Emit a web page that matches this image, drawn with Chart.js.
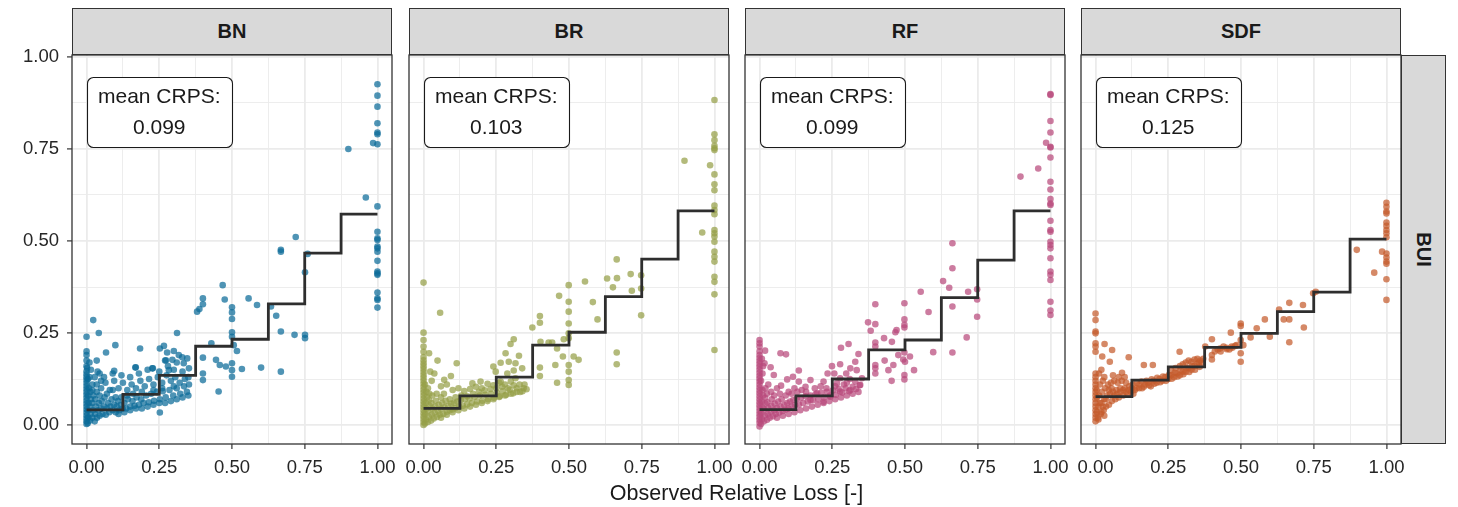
<!DOCTYPE html>
<html>
<head>
<meta charset="utf-8">
<script src="https://cdn.jsdelivr.net/npm/chart.js@4"></script>
<style>
  body { margin: 0; background: #fff; font-family: "Liberation Sans", Arial, sans-serif; }
  #wrap { position: relative; width: 1458px; height: 507px; overflow: hidden; }
  canvas { position: absolute; }
  .strip { position: absolute; box-sizing: border-box; background: #d9d9d9; border: 1.3px solid #333;
           display: flex; align-items: center; justify-content: center;
           font-weight: bold; font-size: 20px; color: #1a1a1a; }
  .strip.right span { display: inline-block; transform: rotate(90deg); }
  #xtitle { position: absolute; left: 0; width: 1473px; top: 481px; text-align: center;
            font-size: 21.5px; color: #1a1a1a; }
</style>
</head>
<body>
<div id="wrap"></div>
<script>
// ---- data ----
const models = ['BN', 'BR', 'RF', 'SDF'];
const rowLabel = 'BUI';
const xTitle = 'Observed Relative Loss [-]';
const meanCrps = ['0.099', '0.103', '0.099', '0.125'];
const labelAt = [0.25, 0.85];

const majorBreaks = [0, 0.25, 0.5, 0.75, 1];
const minorBreaks = [0.125, 0.375, 0.625, 0.875];
const breakLabels = ['0.00', '0.25', '0.50', '0.75', '1.00'];

// bin edges of the step line, and its level per bin
const binEdges = [0, 0.125, 0.25, 0.375, 0.5, 0.625, 0.75, 0.875, 1];
const stepBN  = [0.041, 0.083, 0.135, 0.214, 0.233, 0.329, 0.467, 0.573];
const stepBR  = [0.045, 0.079, 0.130, 0.217, 0.252, 0.349, 0.451, 0.582];
const stepRF  = [0.042, 0.079, 0.125, 0.204, 0.231, 0.346, 0.448, 0.582];
const stepSDF = [0.077, 0.122, 0.158, 0.211, 0.249, 0.308, 0.361, 0.505];

const pointsBN = [
  [0,0.003],[0,0.01],[0,0.018],[0,0.026],[0,0.034],[0,0.042],[0,0.05],[0,0.058],[0,0.066],[0,0.074],[0,0.082],[0,0.09],
  [0,0.098],[0,0.106],[0,0.114],[0,0.122],[0,0.13],[0,0.138],[0,0.146],[0,0.16],[0,0.175],[0,0.19],[0,0.2],[0,0.24],
  [0.004,0.005],[0.006,0.02],[0.005,0.04],[0.007,0.06],[0.006,0.08],[0.008,0.1],[0.005,0.125],[0.012,0.012],[0.014,0.03],
  [0.012,0.05],[0.015,0.07],[0.013,0.09],[0.02,0.02],[0.022,0.04],[0.02,0.06],[0.024,0.08],[0.028,0.01],[0.03,0.03],
  [0.032,0.05],[0.03,0.07],[0.036,0.02],[0.04,0.04],[0.042,0.06],[0.045,0.025],[0.05,0.045],[0.052,0.065],[0.055,0.03],
  [0.06,0.05],[0.062,0.075],[0.066,0.028],[0.07,0.045],[0.074,0.06],[0.078,0.035],[0.082,0.05],[0.086,0.07],[0.09,0.04],
  [0.095,0.055],[0.1,0.035],[0.104,0.05],[0.108,0.065],[0.112,0.04],[0.118,0.055],[0.124,0.045],[0.13,0.06],[0.136,0.045],
  [0.142,0.07],[0.15,0.05],[0.158,0.065],[0.165,0.052],[0.172,0.075],[0.18,0.055],[0.188,0.07],[0.196,0.06],[0.205,0.08],
  [0.214,0.062],[0.222,0.085],[0.232,0.066],[0.242,0.09],[0.252,0.07],[0.262,0.092],[0.272,0.075],[0.285,0.095],[0.298,0.08],
  [0.31,0.1],[0.322,0.085],[0.335,0.105],[0.345,0.09],[0.352,0.11],
  [0.11,0.03],[0.13,0.035],[0.15,0.04],[0.17,0.045],[0.19,0.045],[0.21,0.05],[0.23,0.055],[0.25,0.06],[0.27,0.06],
  [0.29,0.065],[0.31,0.07],[0.33,0.075],[0.35,0.08],[0.12,0.075],[0.14,0.08],[0.16,0.085],[0.19,0.09],[0.23,0.095],
  [0.26,0.1],[0.3,0.105],[0.02,0.11],[0.01,0.13],[0.015,0.15],[0.05,0.12],[0.07,0.085],[0.035,0.09],[0.045,0.08],
  [0.1,0.075],[0.09,0.095],[0.002,0.155],[0.01,0.17],
  [0.02,0.095],[0.035,0.11],[0.05,0.1],[0.065,0.115],[0.08,0.095],[0.095,0.12],[0.11,0.1],[0.125,0.115],[0.14,0.095],
  [0.155,0.11],[0.17,0.1],[0.185,0.12],[0.2,0.105],[0.215,0.125],[0.23,0.11],[0.245,0.13],[0.26,0.115],[0.275,0.135],
  [0.29,0.12],[0.305,0.13],[0.32,0.115],[0.338,0.125],[0.35,0.13],[0.028,0.13],[0.045,0.14],[0.06,0.13],[0.09,0.14],
  [0.12,0.135],[0.15,0.13],[0.18,0.14],[0.21,0.15],[0.25,0.145],[0.28,0.16],[0.3,0.15],[0.33,0.145],[0.27,0.175],[0.31,0.17],
  [0.252,0.208],[0.266,0.215],[0.277,0.197],[0.3,0.201],[0.317,0.19],[0.329,0.184],[0.346,0.181],[0.334,0.168],[0.352,0.154],
  [0.295,0.177],[0.283,0.149],[0.226,0.154],[0.169,0.157],[0.095,0.147],[0.038,0.145],[0.184,0.208],[0.099,0.217],
  [0.067,0.197],[0.035,0.175],[0.168,0.156],[0.228,0.154],[0.273,0.176],[0.311,0.25],[0.042,0.25],[0.023,0.285],[0.252,0.034],
  [0.429,0.222],[0.445,0.177],[0.458,0.163],[0.479,0.159],[0.506,0.217],[0.517,0.201],[0.5,0.168],[0.5,0.149],[0.5,0.131],
  [0.534,0.152],[0.6,0.156],[0.668,0.145],[0.4,0.183],[0.4,0.14],[0.4,0.122],[0.454,0.091],
  [0.468,0.38],[0.4,0.344],[0.4,0.328],[0.388,0.315],[0.38,0.308],[0.475,0.341],[0.557,0.344],[0.586,0.326],[0.634,0.322],
  [0.652,0.297],[0.5,0.32],[0.5,0.306],[0.5,0.288],[0.5,0.252],[0.5,0.24],[0.668,0.254],[0.715,0.245],[0.751,0.245],
  [0.751,0.236],[0.719,0.511],[0.668,0.476],[0.668,0.471],[0.76,0.465],[0.751,0.415],[0.9,0.75],[0.96,0.618],[0.985,0.766],
  [1,0.926],[1,0.895],[1,0.865],[1,0.82],[1,0.795],[1,0.79],[1,0.763],[1,0.594],[1,0.525],[1,0.507],[1,0.503],[1,0.485],
  [1,0.48],[1,0.471],[1,0.446],[1,0.417],[1,0.412],[1,0.408],[1,0.36],[1,0.344],[1,0.34],[1,0.319]
];

const pointsBR = [
  [0,0],[0,0.008],[0,0.016],[0,0.024],[0,0.032],[0,0.04],[0,0.048],[0,0.056],[0,0.064],[0,0.072],[0,0.08],[0,0.088],
  [0,0.096],[0,0.104],[0,0.112],[0,0.12],[0,0.128],[0,0.136],[0,0.144],[0,0.152],[0,0.16],[0,0.168],[0,0.176],[0,0.185],
  [0,0.199],[0,0.213],[0,0.231],[0,0.251],[0,0.387],
  [0.005,0.004],[0.008,0.015],[0.006,0.03],[0.01,0.045],[0.008,0.06],[0.012,0.075],[0.015,0.008],[0.018,0.022],[0.016,0.038],
  [0.02,0.052],[0.019,0.068],[0.026,0.012],[0.028,0.028],[0.03,0.044],[0.027,0.06],[0.035,0.018],[0.038,0.034],[0.04,0.05],
  [0.042,0.066],[0.046,0.022],[0.05,0.038],[0.052,0.055],[0.056,0.028],[0.06,0.044],[0.064,0.06],[0.068,0.03],[0.072,0.048],
  [0.076,0.066],[0.08,0.036],[0.085,0.052],[0.09,0.04],[0.095,0.058],[0.1,0.042],[0.105,0.06],[0.11,0.046],[0.116,0.064],
  [0.122,0.05],[0.128,0.068],[0.135,0.052],[0.142,0.07],[0.15,0.056],[0.158,0.072],[0.166,0.06],[0.175,0.076],[0.184,0.064],
  [0.193,0.08],[0.202,0.066],[0.212,0.082],[0.222,0.07],[0.232,0.085],[0.242,0.074],[0.252,0.088],[0.262,0.078],[0.272,0.092],
  [0.284,0.082],[0.296,0.096],[0.308,0.086],[0.32,0.1],[0.332,0.09],[0.344,0.1],
  [0.01,0.09],[0.015,0.1],[0.02,0.085],[0.005,0.11],[0.03,0.08],[0.045,0.085],[0.06,0.075],[0.07,0.085],[0.09,0.07],
  [0.11,0.075],[0.13,0.08],[0.15,0.078],[0.17,0.085],[0.19,0.09],[0.21,0.094],[0.23,0.098],[0.25,0.1],[0.27,0.104],
  [0.29,0.1],[0.31,0.108],[0.33,0.11],[0.1,0.035],[0.12,0.04],[0.14,0.045],[0.16,0.05],[0.18,0.055],[0.2,0.06],
  [0.22,0.065],[0.24,0.07],[0.26,0.076],[0.28,0.08],[0.3,0.085],[0.32,0.09],[0.34,0.092],[0.06,0.02],[0.08,0.028],
  [0.019,0.195],[0.048,0.175],[0.023,0.145],[0.037,0.14],[0.071,0.123],[0.094,0.133],[0.028,0.12],[0.06,0.105],[0.08,0.11],
  [0.1,0.095],[0.12,0.1],[0.14,0.092],[0.16,0.098],[0.18,0.104],[0.2,0.1],[0.22,0.112],[0.24,0.108],[0.26,0.115],[0.28,0.11],
  [0.3,0.118],[0.114,0.168],[0.057,0.305],
  [0.31,0.233],[0.299,0.22],[0.282,0.195],[0.328,0.188],[0.316,0.168],[0.293,0.172],[0.265,0.169],[0.24,0.159],[0.248,0.145],
  [0.288,0.14],[0.31,0.148],[0.339,0.154],[0.347,0.11],[0.354,0.097],[0.316,0.127],[0.265,0.118],[0.196,0.118],[0.168,0.113],
  [0.482,0.233],[0.43,0.224],[0.442,0.224],[0.402,0.226],[0.459,0.208],[0.479,0.186],[0.516,0.186],[0.533,0.177],[0.453,0.163],
  [0.4,0.156],[0.4,0.133],[0.499,0.163],[0.499,0.145],[0.499,0.122],[0.499,0.109],[0.459,0.115],[0.664,0.197],[0.664,0.165],
  [0.4,0.296],[0.4,0.278],[0.374,0.265],[0.466,0.351],[0.582,0.334],[0.598,0.287],[0.499,0.38],[0.499,0.335],[0.499,0.308],
  [0.499,0.276],[0.499,0.249],[0.499,0.236],[0.555,0.39],
  [0.664,0.45],[0.712,0.41],[0.748,0.407],[0.748,0.371],[0.748,0.298],[0.665,0.399],[0.631,0.398],[0.651,0.374],[0.716,0.365],
  [0.958,0.523],[0.897,0.718],[0.985,0.706],
  [1,0.883],[1,0.79],[1,0.774],[1,0.759],[1,0.752],[1,0.747],[1,0.681],[1,0.654],[1,0.638],[1,0.596],[1,0.584],[1,0.573],
  [1,0.53],[1,0.521],[1,0.512],[1,0.498],[1,0.471],[1,0.457],[1,0.444],[1,0.403],[1,0.389],[1,0.355],[1,0.204]
];

const pointsRF = [
  [0,-0.004],[0,0.006],[0,0.014],[0,0.022],[0,0.03],[0,0.038],[0,0.046],[0,0.054],[0,0.062],[0,0.07],[0,0.078],[0,0.086],
  [0,0.094],[0,0.102],[0,0.11],[0,0.118],[0,0.126],[0,0.134],[0,0.142],[0,0.15],[0,0.158],[0,0.166],[0,0.174],[0,0.182],
  [0,0.19],[0,0.2],[0,0.213],[0,0.222],[0,0.231],[0.019,0.202],[0.017,0.168],
  [0.005,0.003],[0.008,0.016],[0.006,0.032],[0.01,0.048],[0.008,0.064],[0.012,0.08],[0.015,0.01],[0.018,0.026],[0.016,0.042],
  [0.02,0.058],[0.019,0.074],[0.026,0.014],[0.028,0.03],[0.03,0.046],[0.027,0.062],[0.025,0.085],[0.035,0.02],[0.038,0.036],
  [0.04,0.052],[0.042,0.07],[0.046,0.024],[0.05,0.04],[0.052,0.058],[0.05,0.08],[0.056,0.03],[0.06,0.046],[0.064,0.064],
  [0.068,0.034],[0.072,0.05],[0.076,0.07],[0.08,0.038],[0.085,0.054],[0.09,0.042],[0.095,0.06],[0.1,0.045],[0.105,0.064],
  [0.11,0.05],[0.116,0.068],[0.122,0.054],[0.128,0.072],[0.135,0.056],[0.142,0.074],[0.15,0.06],[0.158,0.078],[0.166,0.064],
  [0.175,0.08],[0.184,0.068],[0.193,0.084],[0.202,0.07],[0.212,0.088],[0.222,0.075],[0.232,0.09],[0.242,0.08],[0.252,0.094],
  [0.262,0.082],[0.272,0.098],[0.284,0.088],[0.296,0.1],[0.308,0.092],[0.32,0.104],[0.332,0.098],[0.344,0.108],
  [0.06,0.02],[0.08,0.025],[0.1,0.03],[0.12,0.035],[0.14,0.04],[0.16,0.045],[0.18,0.05],[0.2,0.055],[0.22,0.06],
  [0.24,0.065],[0.26,0.07],[0.28,0.075],[0.3,0.08],[0.32,0.085],[0.34,0.09],[0.01,0.095],[0.02,0.1],[0.04,0.09],
  [0.07,0.085],[0.09,0.08],[0.11,0.085],[0.13,0.09],[0.16,0.09],[0.23,0.1],[0.26,0.105],[0.29,0.11],[0.31,0.125],
  [0.005,0.12],[0.01,0.14],[0.012,0.16],[0.008,0.18],
  [0.072,0.195],[0.091,0.192],[0.135,0.148],[0.115,0.131],[0.095,0.124],[0.074,0.107],[0.049,0.136],[0.038,0.157],
  [0.175,0.122],[0.22,0.118],[0.266,0.113],[0.277,0.127],[0.3,0.115],[0.329,0.118],[0.352,0.127],[0.234,0.14],[0.257,0.14],
  [0.298,0.14],[0.249,0.16],[0.277,0.165],[0.312,0.154],[0.334,0.149],[0.329,0.172],[0.34,0.193],[0.28,0.21],[0.306,0.22],
  [0.135,0.118],[0.158,0.104],[0.198,0.086],[0.243,0.077],[0.277,0.091],[0.312,0.095],[0.346,0.109],[0.175,0.068],[0.22,0.063],
  [0.06,0.1],[0.03,0.11],[0.1,0.09],[0.12,0.1],[0.145,0.095],[0.19,0.1],[0.21,0.105],
  [0.477,0.19],[0.494,0.178],[0.517,0.186],[0.498,0.197],[0.5,0.172],[0.43,0.175],[0.46,0.163],[0.443,0.149],[0.498,0.136],
  [0.498,0.124],[0.454,0.12],[0.531,0.149],[0.398,0.163],[0.398,0.154],[0.398,0.14],
  [0.663,0.494],[0.663,0.426],[0.631,0.391],[0.652,0.373],[0.717,0.362],[0.748,0.369],[0.748,0.341],[0.748,0.294],
  [0.554,0.362],[0.581,0.307],[0.663,0.322],[0.712,0.238],[0.597,0.198],[0.663,0.197],[0.498,0.331],[0.498,0.287],
  [0.498,0.272],[0.498,0.265],[0.398,0.328],[0.373,0.279],[0.398,0.274],[0.382,0.256],[0.471,0.258],[0.467,0.252],
  [0.428,0.236],[0.455,0.226],[0.398,0.224],[0.398,0.213],
  [0.897,0.675],[0.958,0.697],[0.985,0.767],
  [1,0.899],[1,0.897],[1,0.826],[1,0.795],[1,0.756],[1,0.754],[1,0.727],[1,0.661],[1,0.64],[1,0.614],[1,0.602],[1,0.598],
  [1,0.555],[1,0.53],[1,0.525],[1,0.498],[1,0.489],[1,0.48],[1,0.453],[1,0.417],[1,0.408],[1,0.394],[1,0.335],[1,0.311],[1,0.299]
];

const pointsSDF = [
  [0,0.01],[0,0.02],[0,0.03],[0,0.04],[0,0.05],[0,0.06],[0,0.07],[0,0.08],[0,0.09],[0,0.1],[0,0.11],[0,0.12],[0,0.13],
  [0,0.14],[0,0.199],[0,0.213],[0,0.222],[0,0.249],[0,0.254],[0,0.285],[0,0.303],
  [0.008,0.02],[0.01,0.05],[0.012,0.08],[0.015,0.11],[0.018,0.03],[0.02,0.06],[0.022,0.09],[0.025,0.12],[0.028,0.04],
  [0.03,0.07],[0.033,0.1],[0.036,0.05],[0.04,0.08],[0.043,0.11],[0.046,0.055],[0.05,0.085],[0.053,0.115],[0.056,0.065],
  [0.06,0.09],[0.064,0.12],[0.068,0.07],[0.072,0.095],[0.076,0.115],[0.08,0.075],[0.085,0.1],[0.09,0.12],[0.095,0.08],
  [0.1,0.1],[0.105,0.115],[0.11,0.085],[0.116,0.105],[0.122,0.09],[0.128,0.11],[0.135,0.095],[0.142,0.115],[0.15,0.1],
  [0.158,0.118],[0.166,0.104],[0.175,0.12],[0.184,0.108],[0.193,0.124],[0.202,0.112],[0.212,0.128],[0.222,0.116],
  [0.232,0.132],[0.242,0.12],[0.252,0.136],[0.262,0.126],[0.272,0.142],[0.282,0.132],[0.292,0.148],[0.302,0.138],
  [0.312,0.154],[0.322,0.144],[0.332,0.16],[0.342,0.15],[0.35,0.166],[0.358,0.158],[0.365,0.17],[0.3,0.165],[0.31,0.17],
  [0.32,0.175],[0.33,0.172],[0.34,0.178],[0.35,0.18],[0.29,0.16],[0.275,0.155],[0.26,0.148],
  [0.015,0.06],[0.025,0.05],[0.035,0.07],[0.045,0.095],[0.055,0.1],[0.065,0.08],[0.075,0.085],[0.085,0.09],[0.095,0.095],
  [0.105,0.09],[0.115,0.095],[0.125,0.1],[0.13,0.085],[0.14,0.1],[0.15,0.11],[0.16,0.1],[0.17,0.11],[0.18,0.115],
  [0.19,0.105],[0.2,0.12],[0.21,0.115],[0.22,0.125],[0.23,0.12],[0.24,0.13],[0.25,0.125],[0.26,0.135],[0.27,0.13],
  [0.28,0.14],[0.29,0.135],[0.3,0.145],[0.31,0.145],[0.32,0.155],[0.33,0.15],[0.34,0.16],[0.355,0.17],[0.36,0.175],
  [0.37,0.18],[0.005,0.035],[0.005,0.075],[0.004,0.095],[0.01,0.015],[0.02,0.035],[0.03,0.025],
  [0.012,0.14],[0.03,0.13],[0.06,0.135],[0.08,0.13],[0.1,0.13],[0.02,0.15],
  [0.031,0.22],[0.057,0.204],[0.023,0.186],[0.049,0.172],[0.114,0.184],[0.166,0.163],[0.197,0.163],[0.091,0.142],
  [0.41,0.2],[0.42,0.205],[0.43,0.2],[0.45,0.21],[0.46,0.205],[0.47,0.21],[0.48,0.215],
  [0.289,0.199],[0.377,0.213],[0.4,0.233],[0.4,0.19],[0.4,0.178],[0.428,0.208],[0.44,0.213],[0.451,0.206],[0.468,0.213],
  [0.485,0.217],[0.465,0.251],[0.499,0.276],[0.499,0.269],[0.499,0.231],[0.499,0.195],[0.499,0.172],[0.533,0.238],
  [0.508,0.217],[0.554,0.263],[0.582,0.287],[0.599,0.24],[0.631,0.314],[0.647,0.287],[0.666,0.287],[0.666,0.332],
  [0.666,0.225],[0.716,0.265],[0.713,0.326],[0.748,0.358],[0.757,0.362],[0.958,0.414],[0.898,0.476],[0.985,0.471],
  [1,0.604],[1,0.593],[1,0.58],[1,0.575],[1,0.55],[1,0.541],[1,0.53],[1,0.521],[1,0.51],[1,0.466],[1,0.455],[1,0.444],
  [1,0.438],[1,0.396],[1,0.34]
];

const allPoints = [pointsBN, pointsBR, pointsRF, pointsSDF];
const allSteps = [stepBN, stepBR, stepRF, stepSDF];
const pointColors = ['rgba(11,107,152,0.72)', 'rgba(149,160,72,0.72)', 'rgba(184,74,124,0.72)', 'rgba(197,92,44,0.72)'];

// ---- layout ----
const panelLeft = [72, 409, 745, 1081];
const panelW = 320;
const panelTop = 55, panelBottom = 444;
const canvasTop = 35;
const xAxisH = 40;

Chart.defaults.font.family = '"Liberation Sans", Arial, sans-serif';
Chart.defaults.color = '#262626';

const wrap = document.getElementById('wrap');

const isMajor = v => Math.abs(v * 4 - Math.round(v * 4)) < 1e-6;
const tickText = v => {
  const i = majorBreaks.findIndex(b => Math.abs(b - v) < 1e-6);
  return i >= 0 ? breakLabels[i] : '';
};
const allBreaks = [...majorBreaks, ...minorBreaks].sort((a, b) => a - b);

const panelDecor = {
  id: 'panelDecor',
  afterDatasetsDraw(chart) {
    const { ctx, scales: { x, y } } = chart;
    const cx = x.getPixelForValue(labelAt[0]);
    const cy = y.getPixelForValue(labelAt[1]);
    const w = 145, h = 70;
    ctx.save();
    ctx.beginPath();
    ctx.roundRect(Math.round(cx - w / 2) + 0.5, Math.round(cy - h / 2) + 0.5, w, h, 6);
    ctx.fillStyle = '#fff';
    ctx.fill();
    ctx.lineWidth = 1.1;
    ctx.strokeStyle = '#1a1a1a';
    ctx.stroke();
    ctx.fillStyle = '#1a1a1a';
    ctx.font = '21px "Liberation Sans", Arial, sans-serif';
    ctx.textAlign = 'center';
    ctx.textBaseline = 'middle';
    ctx.fillText('mean CRPS:', cx, cy - 15);
    ctx.fillText(chart.$crps, cx, cy + 16);
    ctx.restore();
  },
  afterDraw(chart) {
    const { ctx, chartArea: a } = chart;
    ctx.save();
    ctx.strokeStyle = '#333';
    ctx.lineWidth = 1.3;
    ctx.strokeRect(a.left, a.top, a.right - a.left, a.bottom - a.top);
    ctx.restore();
  }
};

models.forEach((m, i) => {
  const first = i === 0;
  const padL = first ? 0 : 20;
  const yW = first ? 72 : 0;
  const left = panelLeft[i] - padL - yW;
  const width = padL + yW + panelW + 20;
  const height = panelBottom - canvasTop + xAxisH;

  const cv = document.createElement('canvas');
  cv.width = width; cv.height = height;
  cv.style.left = left + 'px'; cv.style.top = canvasTop + 'px';
  cv.style.width = width + 'px'; cv.style.height = height + 'px';
  wrap.appendChild(cv);

  const strip = document.createElement('div');
  strip.className = 'strip';
  strip.style.left = panelLeft[i] + 'px'; strip.style.top = '8px';
  strip.style.width = panelW + 'px'; strip.style.height = '47px';
  strip.textContent = m;
  wrap.appendChild(strip);

  const stepData = binEdges.map((e, k) => ({ x: e, y: allSteps[i][Math.min(k, allSteps[i].length - 1)] }));

  const chart = new Chart(cv, {
    type: 'scatter',
    data: {
      datasets: [
        {
          type: 'line',
          data: stepData,
          stepped: 'before',
          borderColor: '#2e2e2e',
          borderWidth: 2.8,
          pointRadius: 0,
          fill: false,
          order: 0
        },
        {
          data: allPoints[i].map(p => ({ x: p[0], y: p[1] })),
          backgroundColor: pointColors[i],
          borderWidth: 0,
          pointRadius: 3.3,
          order: 1
        }
      ]
    },
    options: {
      responsive: false,
      animation: false,
      devicePixelRatio: 1,
      layout: { padding: { left: padL, right: 20, top: panelTop - canvasTop, bottom: 0 } },
      plugins: { legend: { display: false }, tooltip: { enabled: false } },
      scales: {
        x: {
          type: 'linear',
          min: -0.05, max: 1.05,
          afterBuildTicks: s => { s.ticks = allBreaks.map(v => ({ value: v })); },
          afterFit: s => { s.height = xAxisH; },
          border: { display: false },
          grid: {
            color: '#ebebeb',
            lineWidth: c => isMajor(c.tick.value) ? 1.8 : 0.9,
            tickColor: c => isMajor(c.tick.value) ? '#333' : 'rgba(0,0,0,0)',
            tickLength: 5,
            tickWidth: 1.2
          },
          ticks: {
            autoSkip: false, maxRotation: 0, padding: 8,
            font: { size: 18.5 }, color: '#262626',
            callback: v => tickText(v)
          }
        },
        y: {
          type: 'linear',
          min: -0.0516, max: 1.0054,
          afterBuildTicks: s => { s.ticks = allBreaks.map(v => ({ value: v })); },
          afterFit: s => { s.width = yW; },
          border: { display: false },
          grid: {
            color: '#ebebeb',
            lineWidth: c => isMajor(c.tick.value) ? 1.8 : 0.9,
            tickColor: c => isMajor(c.tick.value) ? '#333' : 'rgba(0,0,0,0)',
            drawTicks: first,
            tickLength: 5,
            tickWidth: 1.2
          },
          ticks: {
            display: first, autoSkip: false, padding: 8,
            font: { size: 18.5 }, color: '#262626',
            callback: v => tickText(v)
          }
        }
      }
    },
    plugins: [panelDecor]
  });
  chart.$crps = meanCrps[i];
  chart.draw();
});

const rs = document.createElement('div');
rs.className = 'strip right';
rs.style.left = (panelLeft[3] + panelW) + 'px'; rs.style.top = panelTop + 'px';
rs.style.width = '45px'; rs.style.height = (panelBottom - panelTop) + 'px';
rs.innerHTML = '<span></span>';
rs.firstChild.textContent = rowLabel;
wrap.appendChild(rs);

const xt = document.createElement('div');
xt.id = 'xtitle';
xt.textContent = xTitle;
wrap.appendChild(xt);
</script>
</body>
</html>
